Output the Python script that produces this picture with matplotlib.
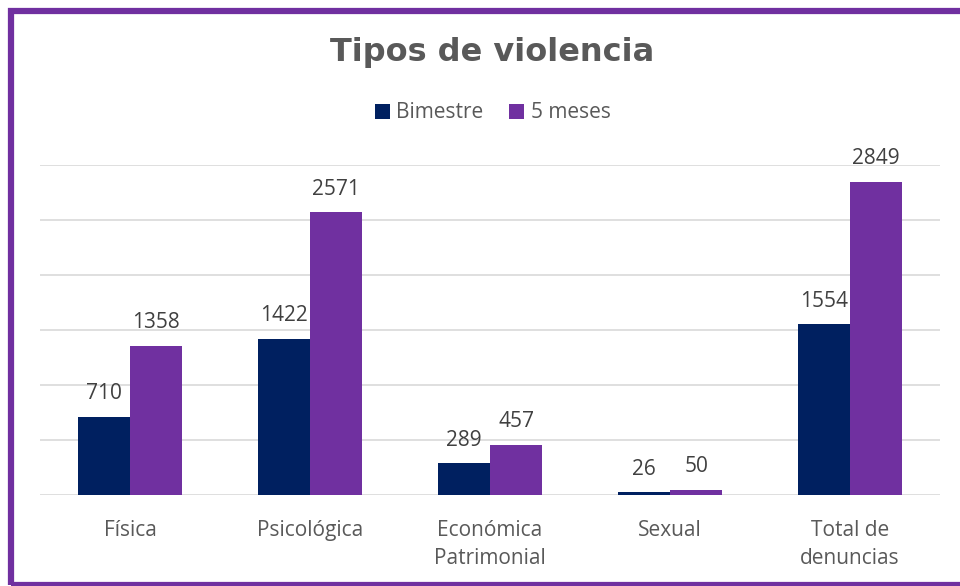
import matplotlib

matplotlib.use("Agg")
import matplotlib.pyplot as plt
import numpy as np
from matplotlib.patches import Rectangle

categories = ["Física", "Psicológica", "Económica\nPatrimonial", "Sexual", "Total de\ndenuncias"]
bimestre = [710, 1422, 289, 26, 1554]
cinco_meses = [1358, 2571, 457, 50, 2849]
series_names = ["Bimestre", "5 meses"]

navy = "#002060"
purple = "#7030A0"
text_gray = "#595959"

plt.rcParams["font.family"] = ["Open Sans", "DejaVu Sans"]

fig = plt.figure(figsize=(9.6, 5.86), dpi=100)
ax = fig.add_axes([40 / 960, 1 - 495 / 586, 900 / 960, 330 / 586])

x = np.arange(len(categories))
width = 0.29
b1 = ax.bar(x - width / 2, bimestre, width, color=navy, label=series_names[0], zorder=3)
b2 = ax.bar(x + width / 2, cinco_meses, width, color=purple, label=series_names[1], zorder=3)

for bars in (b1, b2):
    ax.bar_label(bars, padding=9, fontsize=15, color="#404040")

ax.set_xlim(-0.5, len(categories) - 0.5)
ax.set_ylim(0, 3000)
ax.set_yticks(np.arange(0, 3001, 500))
ax.set_yticklabels([])
ax.tick_params(axis="y", length=0)
ax.tick_params(axis="x", length=0, pad=18, labelsize=15, labelcolor=text_gray)
ax.set_xticks(x)
ax.set_xticklabels(categories, linespacing=1.45)
ax.grid(axis="y", color="#d9d9d9", linewidth=1.2, zorder=0)
for side in ax.spines.values():
    side.set_visible(False)

fig.text(0.5125, 1 - 53 / 586, "Tipos de violencia", ha="center", va="center",
         fontsize=23, fontweight="bold", color=text_gray, family=["DejaVu Sans"])

fig.legend(loc="center", bbox_to_anchor=(0.513, 1 - 113 / 586), ncol=2, frameon=False,
           fontsize=15, labelcolor=text_gray, handlelength=0.75, handleheight=0.75,
           handletextpad=0.3, columnspacing=1.2)

fig.patches.append(Rectangle((11 / 960, 1 / 586), 1.2, 574 / 586, transform=fig.transFigure,
                             fill=False, edgecolor=purple, linewidth=4.5))

fig.savefig("out.png", dpi=100)
